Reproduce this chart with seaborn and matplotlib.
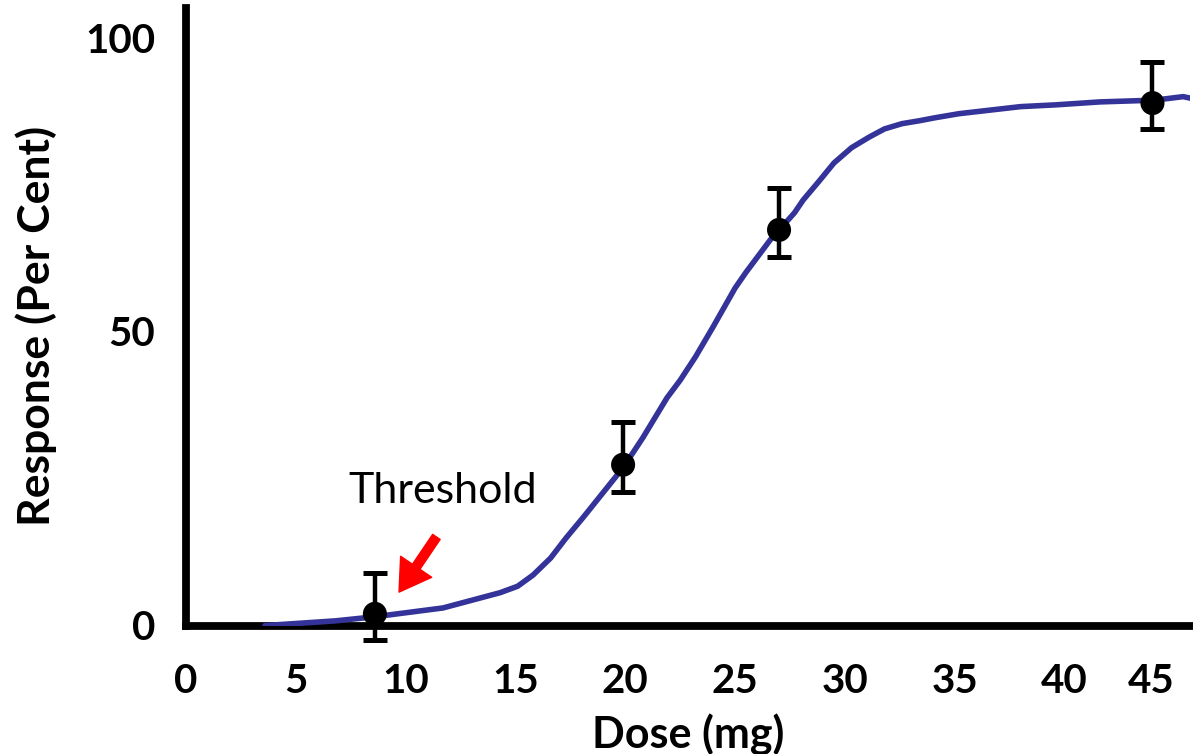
import numpy as np
import matplotlib
matplotlib.use('Agg')
import matplotlib.pyplot as plt
import seaborn as sns

# ---- data ----
curve_dose = [3.6, 6.8, 8.6, 11.7, 13.6, 14.3, 15.1, 15.8, 16.6, 17.3, 18.1,
              19.9, 20.8, 21.9, 22.5, 23.2, 24.0, 25.0, 25.5, 26.6,
              27.7, 28.1, 28.8, 29.5, 30.3, 31.1, 31.8, 32.6, 33.4, 34.1,
              35.2, 38.0, 39.6, 41.6, 44.1, 45.4, 45.9]
curve_resp = [-0.1, 0.7, 1.4, 2.9, 4.8, 5.5, 6.6, 8.5, 11.4, 14.8, 18.4,
              26.8, 31.9, 38.7, 41.7, 45.7, 50.8, 57.4, 60.1, 65.6,
              70.2, 72.4, 75.5, 78.7, 81.3, 83.1, 84.5, 85.4, 85.9, 86.4,
              87.1, 88.3, 88.6, 89.1, 89.4, 90.0, 89.6]

obs_dose = [8.6, 19.9, 27.0, 44.0]
obs_resp = [1.9, 27.3, 67.3, 88.9]
err_low = [4.4, 4.6, 4.6, 4.4]
err_high = [7.0, 7.2, 7.2, 7.0]

x_ticks = [0, 5, 10, 15, 20, 25, 30, 35, 40, 45]
y_ticks = [0, 50, 100]

sns.set_style('white')
plt.rcParams['font.family'] = ['Lato', 'DejaVu Sans']
plt.rcParams['text.color'] = 'black'
plt.rcParams['axes.labelcolor'] = 'black'
plt.rcParams['xtick.color'] = 'black'
plt.rcParams['ytick.color'] = 'black'

fig = plt.figure(figsize=(11.93, 7.54), dpi=100)
ax = fig.add_axes([0.1559, 0.1698, 0.8416, 0.8196])

# fitted dose-response curve
sns.lineplot(x=curve_dose, y=curve_resp, ax=ax, color='#333399',
             linewidth=4.0, zorder=3)

# observations with error bars
ax.errorbar(obs_dose, obs_resp, yerr=[err_low, err_high], fmt='none',
            ecolor='black', elinewidth=3.2, capsize=8.6, capthick=3.6,
            zorder=4, clip_on=False)
sns.scatterplot(x=obs_dose, y=obs_resp, ax=ax, color='black', s=300,
                edgecolor='none', zorder=5, clip_on=False)

# threshold annotation
ax.text(11.7, 20.8, 'Threshold', fontsize=31, ha='center', va='baseline')
ax.annotate('', xy=(9.7, 5.6), xytext=(11.4, 15.0),
            arrowprops=dict(facecolor='red', edgecolor='red', width=6.5,
                            headwidth=27, headlength=22, shrink=0))

ax.set_xlim(0.24, 45.71)
ax.set_ylim(-0.17, 105.1)
ax.set_xticks(x_ticks)
ax.set_yticks(y_ticks)
ax.tick_params(axis='both', length=0, labelsize=29)
ax.tick_params(axis='x', pad=27)
ax.tick_params(axis='y', pad=22)
for lab in ax.get_xticklabels() + ax.get_yticklabels():
    lab.set_fontweight('bold')
ax.get_xticklabels()[-1].set_horizontalalignment('right')

ax.set_xlabel('Dose (mg)', fontsize=31, fontweight='bold')
ax.set_ylabel('Response (Per Cent)', fontsize=32, fontweight='bold')
ax.xaxis.set_label_coords(0.5, -0.142)
ax.yaxis.set_label_coords(-0.128, 0.485)

for side in ['top', 'right']:
    ax.spines[side].set_visible(False)
for side in ['left', 'bottom']:
    ax.spines[side].set_linewidth(5.6)
    ax.spines[side].set_color('black')

fig.savefig('out.png', dpi=100)
